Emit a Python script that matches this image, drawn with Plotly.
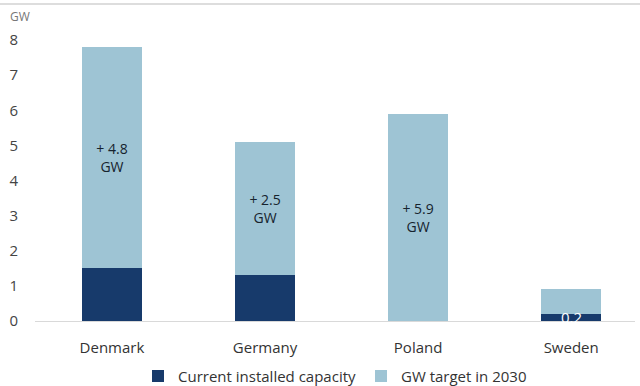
import plotly.graph_objects as go

countries = ["Denmark", "Germany", "Poland", "Sweden"]
current_capacity = [1.5, 1.3, 0.0, 0.2]
target_addition = [6.3, 3.8, 5.9, 0.7]
current_labels = ["", "", "", "0.2"]
target_labels = ["+ 4.8<br>GW", "+ 2.5<br>GW", "+ 5.9<br>GW", ""]

DARK = "#173a6b"
LIGHT = "#9ec4d4"
FONT = "Open Sans"

fig = go.Figure()
fig.add_trace(go.Bar(
    x=countries, y=current_capacity, name="Current installed capacity",
    marker=dict(color=DARK, line=dict(width=0)),
    width=0.39,
))
fig.add_trace(go.Bar(
    x=countries, y=target_addition, name="GW target in 2030",
    marker=dict(color=LIGHT, line=dict(width=0)),
    text=target_labels, textposition="inside", insidetextanchor="middle",
    constraintext="none",
    textfont=dict(color="#16232e", size=14, family=FONT),
    width=0.39,
))

annotations = [dict(text="GW", xref="paper", yref="paper", x=-0.045, y=1 + 23 / 281,
                    xanchor="left", yanchor="middle", showarrow=False,
                    font=dict(size=12, color="#777777", family=FONT))]
for c, v, t in zip(countries, current_capacity, current_labels):
    if t:
        annotations.append(dict(text=t, x=c, y=v / 2, xref="x", yref="y",
                                showarrow=False, yanchor="middle",
                                font=dict(size=15, color="white", family=FONT)))

fig.update_layout(
    barmode="stack",
    width=640, height=386,
    margin=dict(l=35, r=5, t=40, b=65, autoexpand=False),
    paper_bgcolor="white", plot_bgcolor="white",
    font=dict(family=FONT, size=15, color="#333333"),
    showlegend=True,
    legend=dict(orientation="h", x=0.5, xanchor="center", yref="container",
                y=0.025, yanchor="middle",
                font=dict(size=15, color="#333333", family=FONT),
                traceorder="normal", itemwidth=30),
    xaxis=dict(range=[-0.503, 3.417], showgrid=False, zeroline=False,
               showline=True, linecolor="#d9d9d9", linewidth=1,
               tickfont=dict(size=15, color="#333333"), ticks="",
               ticklabelstandoff=13),
    yaxis=dict(range=[0, 8], dtick=1, showgrid=False, zeroline=False,
               showline=False, ticks="", ticklabelstandoff=16,
               tickfont=dict(size=15, color="#444444")),
    shapes=[dict(type="line", xref="paper", yref="paper", x0=-1, x1=2,
                 y0=1 + 36 / 281, y1=1 + 36 / 281,
                 line=dict(color="#dddddd", width=2))],
    annotations=annotations,
)

fig.write_html("out.html")
